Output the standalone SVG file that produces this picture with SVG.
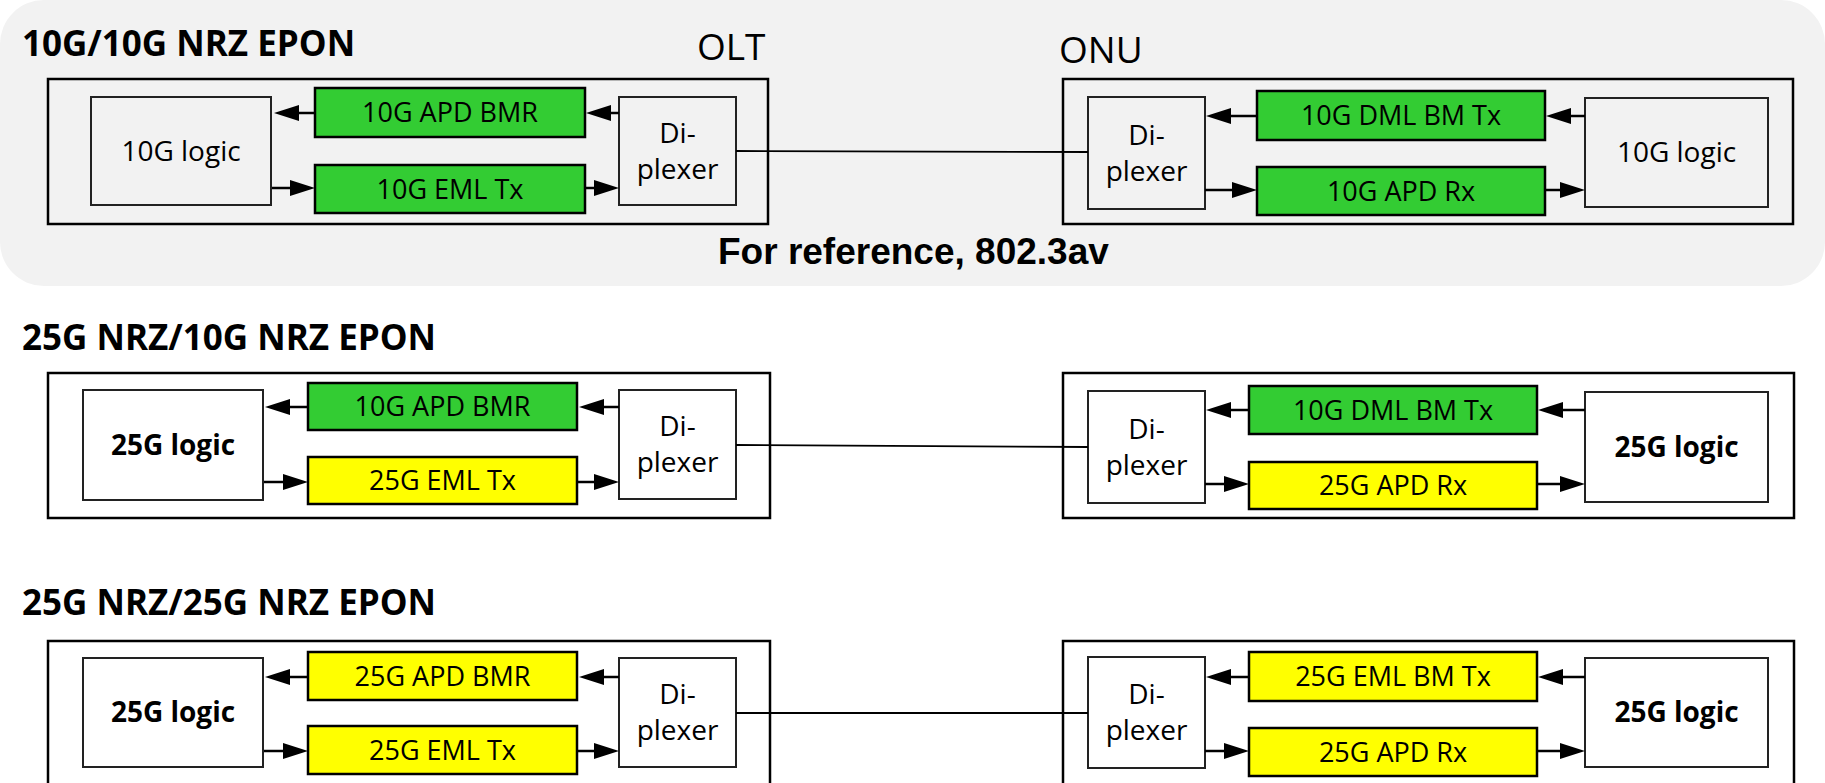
<svg xmlns="http://www.w3.org/2000/svg" width="1825" height="783" viewBox="0 0 1825 783">
<style>
.title{font-family:"Open Sans","Noto Sans",sans-serif;font-weight:bold;font-size:35px;fill:#000}
.hdr{font-family:"Open Sans","Noto Sans",sans-serif;font-size:37px;fill:#000}
.ref{font-family:"Liberation Sans",Arial,sans-serif;font-weight:bold;font-size:37px;fill:#000}
.lbl{font-family:"Open Sans","Noto Sans",sans-serif;font-size:27px;text-anchor:middle;fill:#000}
.lg{font-family:"Open Sans","Noto Sans",sans-serif;font-size:28px;text-anchor:middle;fill:#000}
.lgb{font-family:"Open Sans","Noto Sans",sans-serif;font-size:28px;font-weight:bold;text-anchor:middle;fill:#000}
.outer{fill:none;stroke:#000;stroke-width:2.5}
.inner{fill:#fff;stroke:#222;stroke-width:2}
.inner0{fill:none;stroke:#222;stroke-width:2}
.gr{fill:#33cc33;stroke:#000;stroke-width:2.5}
.ye{fill:#ffff00;stroke:#000;stroke-width:2.5}
.arr{stroke:#000;stroke-width:2.5;fill:none;marker-end:url(#ah)}
.fiber{stroke:#000;stroke-width:1.8;fill:none}
</style>
<defs>
<marker id="ah" markerUnits="userSpaceOnUse" markerWidth="26" markerHeight="16" refX="13" refY="8" orient="auto">
<path d="M0,0 L25,8 L0,16 Z" fill="#000"/>
</marker>
</defs>

<rect id="bg-ref" x="0" y="0" width="1825" height="286" rx="44" ry="44" fill="#f2f2f2"/>

<!-- Row 1 -->
<g id="row1-labels">
<text class="title" x="22" y="56">10G/10G NRZ EPON</text>
<text class="hdr" x="697" y="60">OLT</text>
<text class="hdr" x="1059" y="63">ONU</text>
<text class="ref" x="718" y="264">For reference, 802.3av</text>
</g>
<g id="r1-olt"><rect class="outer" x="48" y="79" width="720" height="145"/></g>
<g id="r1-olt-logic"><rect class="inner0" x="91" y="97" width="180" height="108"/><text class="lg" x="181" y="161">10G logic</text></g>
<g id="r1-olt-rx"><rect class="gr" x="315" y="88" width="270" height="49"/><text class="lbl" x="450" y="122">10G APD BMR</text></g>
<g id="r1-olt-tx"><rect class="gr" x="315" y="165" width="270" height="48"/><text class="lbl" x="450" y="199">10G EML Tx</text></g>
<g id="r1-olt-dip"><rect class="inner0" x="619" y="97" width="117" height="108"/><text class="lg" x="677.5" y="143">Di-</text><text class="lg" x="677.5" y="179">plexer</text></g>
<g id="r1-onu"><rect class="outer" x="1063" y="79" width="730" height="145"/></g>
<g id="r1-onu-dip"><rect class="inner0" x="1088" y="97" width="117" height="112"/><text class="lg" x="1146.5" y="145">Di-</text><text class="lg" x="1146.5" y="181">plexer</text></g>
<g id="r1-onu-tx"><rect class="gr" x="1257" y="91" width="288" height="49"/><text class="lbl" x="1401" y="125">10G DML BM Tx</text></g>
<g id="r1-onu-rx"><rect class="gr" x="1257" y="167" width="288" height="48"/><text class="lbl" x="1401" y="201">10G APD Rx</text></g>
<g id="r1-onu-logic"><rect class="inner0" x="1585" y="98" width="183" height="109"/><text class="lg" x="1676.5" y="162">10G logic</text></g>

<!-- Row 2 -->
<g id="row2-labels"><text class="title" x="22" y="350">25G NRZ/10G NRZ EPON</text></g>
<g id="r2-olt"><rect class="outer" x="48" y="373" width="722" height="145"/></g>
<g id="r2-olt-logic"><rect class="inner" x="83" y="390" width="180" height="110"/><text class="lgb" x="173" y="455">25G logic</text></g>
<g id="r2-olt-rx"><rect class="gr" x="308" y="383" width="269" height="47"/><text class="lbl" x="442.5" y="416">10G APD BMR</text></g>
<g id="r2-olt-tx"><rect class="ye" x="308" y="457" width="269" height="47"/><text class="lbl" x="442.5" y="490">25G EML Tx</text></g>
<g id="r2-olt-dip"><rect class="inner" x="619" y="390" width="117" height="109"/><text class="lg" x="677.5" y="436">Di-</text><text class="lg" x="677.5" y="472">plexer</text></g>
<g id="r2-onu"><rect class="outer" x="1063" y="373" width="731" height="145"/></g>
<g id="r2-onu-dip"><rect class="inner" x="1088" y="391" width="117" height="112"/><text class="lg" x="1146.5" y="439">Di-</text><text class="lg" x="1146.5" y="475">plexer</text></g>
<g id="r2-onu-tx"><rect class="gr" x="1249" y="386" width="288" height="48"/><text class="lbl" x="1393" y="420">10G DML BM Tx</text></g>
<g id="r2-onu-rx"><rect class="ye" x="1249" y="462" width="288" height="47"/><text class="lbl" x="1393" y="495">25G APD Rx</text></g>
<g id="r2-onu-logic"><rect class="inner" x="1585" y="392" width="183" height="110"/><text class="lgb" x="1676.5" y="457">25G logic</text></g>

<!-- Row 3 -->
<g id="row3-labels"><text class="title" x="22" y="615">25G NRZ/25G NRZ EPON</text></g>
<g id="r3-olt"><rect class="outer" x="48" y="641" width="722" height="170"/></g>
<g id="r3-olt-logic"><rect class="inner" x="83" y="658" width="180" height="109"/><text class="lgb" x="173" y="722">25G logic</text></g>
<g id="r3-olt-rx"><rect class="ye" x="308" y="652" width="269" height="48"/><text class="lbl" x="442.5" y="686">25G APD BMR</text></g>
<g id="r3-olt-tx"><rect class="ye" x="308" y="726" width="269" height="48"/><text class="lbl" x="442.5" y="760">25G EML Tx</text></g>
<g id="r3-olt-dip"><rect class="inner" x="619" y="658" width="117" height="109"/><text class="lg" x="677.5" y="704">Di-</text><text class="lg" x="677.5" y="740">plexer</text></g>
<g id="r3-onu"><rect class="outer" x="1063" y="641" width="731" height="170"/></g>
<g id="r3-onu-dip"><rect class="inner" x="1088" y="657" width="117" height="111"/><text class="lg" x="1146.5" y="704">Di-</text><text class="lg" x="1146.5" y="740">plexer</text></g>
<g id="r3-onu-tx"><rect class="ye" x="1249" y="652" width="288" height="49"/><text class="lbl" x="1393" y="686">25G EML BM Tx</text></g>
<g id="r3-onu-rx"><rect class="ye" x="1249" y="728" width="288" height="48"/><text class="lbl" x="1393" y="762">25G APD Rx</text></g>
<g id="r3-onu-logic"><rect class="inner" x="1585" y="658" width="183" height="109"/><text class="lgb" x="1676.5" y="722">25G logic</text></g>

<g id="connectors">
<!-- row 1 -->
<line class="arr" x1="315" y1="113" x2="286" y2="113"/>
<line class="arr" x1="619" y1="113" x2="598" y2="113"/>
<line class="arr" x1="272" y1="188" x2="303" y2="188"/>
<line class="arr" x1="585" y1="188" x2="607" y2="188"/>
<line class="fiber" x1="736" y1="151" x2="1088" y2="152"/>
<line class="arr" x1="1585" y1="116" x2="1558" y2="116"/>
<line class="arr" x1="1257" y1="116" x2="1218" y2="116"/>
<line class="arr" x1="1205" y1="190" x2="1245" y2="190"/>
<line class="arr" x1="1545" y1="190" x2="1573" y2="190"/>
<!-- row 2 -->
<line class="arr" x1="308" y1="407" x2="277" y2="407"/>
<line class="arr" x1="619" y1="407" x2="591" y2="407"/>
<line class="arr" x1="264" y1="482" x2="296" y2="482"/>
<line class="arr" x1="577" y1="482" x2="607" y2="482"/>
<line class="fiber" x1="736" y1="445" x2="1088" y2="447"/>
<line class="arr" x1="1585" y1="410" x2="1550" y2="410"/>
<line class="arr" x1="1249" y1="410" x2="1218" y2="410"/>
<line class="arr" x1="1205" y1="484" x2="1237" y2="484"/>
<line class="arr" x1="1537" y1="484" x2="1573" y2="484"/>
<!-- row 3 -->
<line class="arr" x1="308" y1="677" x2="277" y2="677"/>
<line class="arr" x1="619" y1="677" x2="591" y2="677"/>
<line class="arr" x1="264" y1="751" x2="296" y2="751"/>
<line class="arr" x1="577" y1="751" x2="607" y2="751"/>
<line class="fiber" x1="736" y1="713" x2="1088" y2="713"/>
<line class="arr" x1="1585" y1="677" x2="1550" y2="677"/>
<line class="arr" x1="1249" y1="677" x2="1218" y2="677"/>
<line class="arr" x1="1205" y1="751" x2="1237" y2="751"/>
<line class="arr" x1="1537" y1="751" x2="1573" y2="751"/>
</g>
</svg>
